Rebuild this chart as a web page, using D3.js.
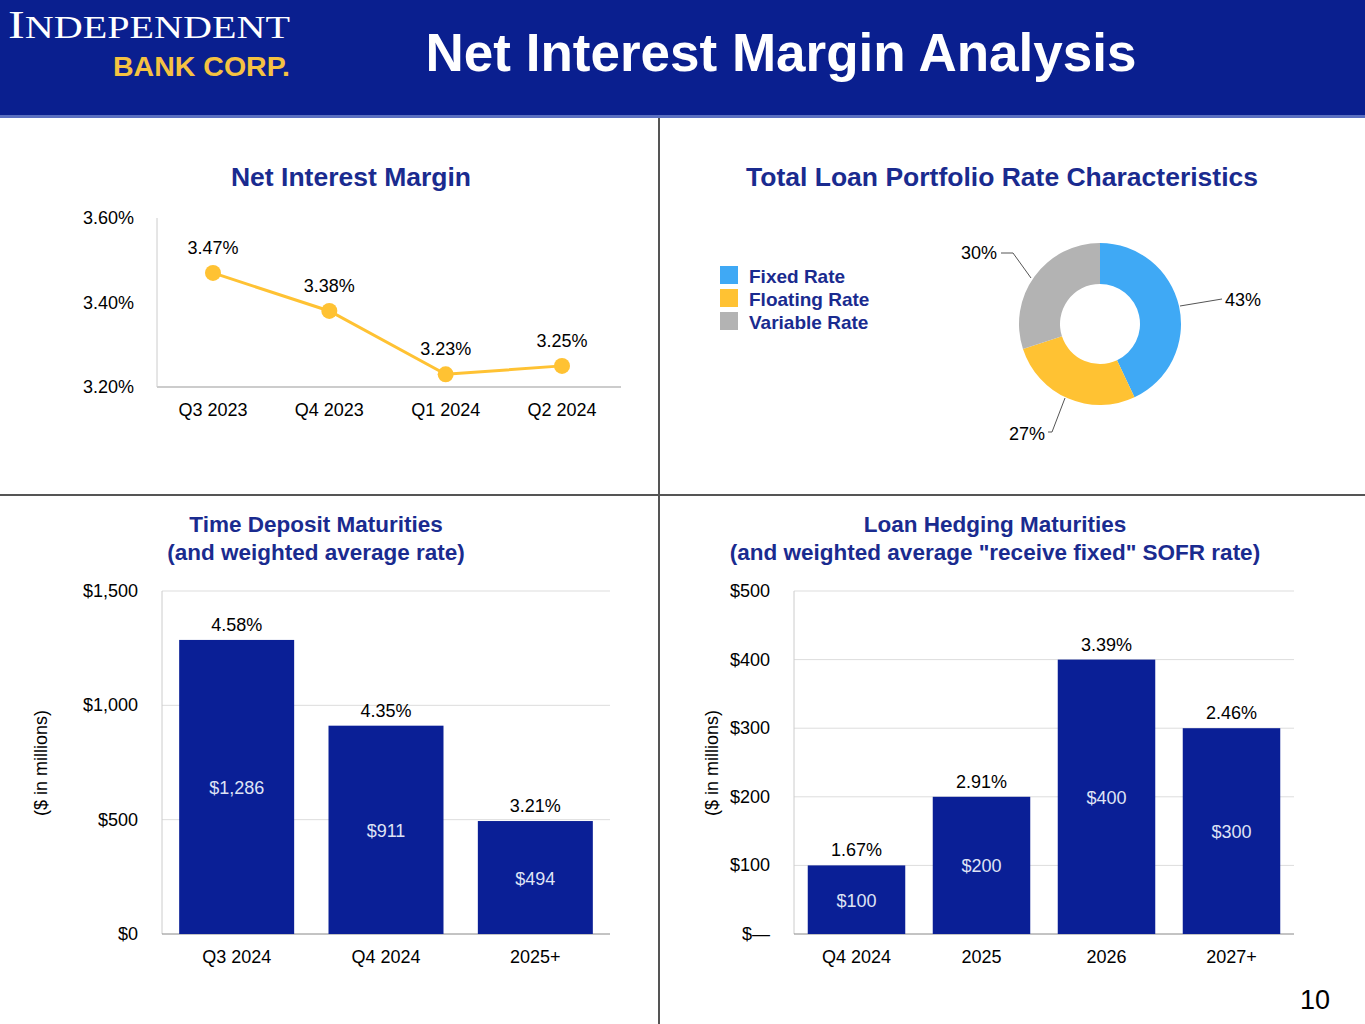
<!DOCTYPE html>
<html><head><meta charset="utf-8">
<script src="https://cdn.jsdelivr.net/npm/d3@7"></script>
<style>body{margin:0;background:#fff}svg{display:block;font-family:Arial,"Liberation Sans",sans-serif}</style>
</head><body><svg id="c" width="1365" height="1024"></svg>
<script>
const nimQuarters = ['Q3 2023','Q4 2023','Q1 2024','Q2 2024'];
const nimValues = [3.47, 3.38, 3.23, 3.25];
const nimTicks = [3.2, 3.4, 3.6];

const loanTypes = ['Fixed Rate','Floating Rate','Variable Rate'];
const loanShares = [43, 27, 30];
const loanColors = ['#3fa9f5','#ffc233','#b3b3b3'];

const tdBuckets = ['Q3 2024','Q4 2024','2025+'];
const tdAmounts = [1286, 911, 494];
const tdRates = ['4.58%','4.35%','3.21%'];
const tdTicks = [0, 500, 1000, 1500];

const hedgeBuckets = ['Q4 2024','2025','2026','2027+'];
const hedgeAmounts = [100, 200, 400, 300];
const hedgeRates = ['1.67%','2.91%','3.39%','2.46%'];
const hedgeTicks = [0, 100, 200, 300, 400, 500];

const navy = '#0a1f96', title = '#1a2b8f';
const FS = 18;
const svg = d3.select('#c');

// header
svg.append('rect').attr('width',1365).attr('height',115).attr('fill','#0a1f8f');
svg.append('rect').attr('y',115).attr('width',1365).attr('height',3).attr('fill','#5a6fc0');
const logo = svg.append('text').attr('x',8).attr('y',38).attr('fill','#fff').attr('font-family','Liberation Serif,serif')
  .attr('textLength',282).attr('lengthAdjust','spacingAndGlyphs');
logo.append('tspan').attr('font-size',40).text('I');
logo.append('tspan').attr('font-size',32).text('NDEPENDENT');
svg.append('text').attr('x',113).attr('y',76).attr('fill','#f5c242').attr('font-size',27).attr('font-weight','bold')
  .attr('textLength',177).attr('lengthAdjust','spacingAndGlyphs').text('BANK CORP.');
svg.append('text').attr('x',781).attr('y',71).attr('text-anchor','middle').attr('fill','#fff')
  .attr('font-size',53).attr('font-weight','bold').text('Net Interest Margin Analysis');

// dividers
svg.append('line').attr('x1',659).attr('x2',659).attr('y1',118).attr('y2',1024).attr('stroke','#555').attr('stroke-width',2);
svg.append('line').attr('x1',0).attr('x2',1365).attr('y1',495).attr('y2',495).attr('stroke','#555').attr('stroke-width',2);
svg.append('text').attr('x',1330).attr('y',1009).attr('text-anchor','end').attr('font-size',27).text('10');

function heading(x, lines, y0, size){
  lines.forEach((t,i)=>svg.append('text').attr('x',x).attr('y',y0+i*28).attr('text-anchor','middle')
    .attr('fill',title).attr('font-size',size).attr('font-weight','bold').text(t));
}
heading(351,['Net Interest Margin'],186,26.5);
heading(1002,['Total Loan Portfolio Rate Characteristics'],186,26.5);
heading(316,['Time Deposit Maturities','(and weighted average rate)'],532,22.5);
heading(995,['Loan Hedging Maturities','(and weighted average "receive fixed" SOFR rate)'],532,22.5);

// NIM line chart
{
  const x = d3.scalePoint().domain(nimQuarters).range([213,562]);
  const y = d3.scaleLinear().domain([3.2,3.6]).range([387,218]);
  svg.append('line').attr('x1',157).attr('x2',621).attr('y1',387).attr('y2',387).attr('stroke','#999');
  svg.append('line').attr('x1',157).attr('x2',157).attr('y1',218).attr('y2',387).attr('stroke','#ccc');
  nimTicks.forEach(t=>svg.append('text').attr('x',134).attr('y',y(t)+6).attr('text-anchor','end').attr('font-size',FS).text(t.toFixed(2)+'%'));
  nimQuarters.forEach(q=>svg.append('text').attr('x',x(q)).attr('y',416).attr('text-anchor','middle').attr('font-size',FS).text(q));
  svg.append('path').attr('d',d3.line().x((d,i)=>x(nimQuarters[i])).y(d=>y(d))(nimValues))
    .attr('fill','none').attr('stroke','#ffc233').attr('stroke-width',3);
  nimValues.forEach((v,i)=>{
    svg.append('circle').attr('cx',x(nimQuarters[i])).attr('cy',y(v)).attr('r',8).attr('fill','#ffc233');
    svg.append('text').attr('x',x(nimQuarters[i])).attr('y',y(v)-19).attr('text-anchor','middle').attr('font-size',FS).text(v.toFixed(2)+'%');
  });
}

// Donut
{
  const cx=1100, cy=324;
  const g = svg.append('g').attr('transform',`translate(${cx},${cy})`);
  const pie = d3.pie().sort(null)(loanShares);
  const arc = d3.arc().innerRadius(40).outerRadius(81);
  g.selectAll('path').data(pie).join('path').attr('d',arc).attr('fill',(d,i)=>loanColors[i]);
  const leaders = [
    {pts:[[1180,306],[1222,299]], tx:1225, ty:306, anchor:'start'},
    {pts:[[1065,398],[1052,432],[1048,432]], tx:1045, ty:440, anchor:'end'},
    {pts:[[1031,278],[1013,253],[1001,253]], tx:997, ty:259, anchor:'end'}
  ];
  leaders.forEach((l,i)=>{
    svg.append('polyline').attr('points',l.pts.map(p=>p.join(',')).join(' ')).attr('fill','none').attr('stroke','#555');
    svg.append('text').attr('x',l.tx).attr('y',l.ty).attr('text-anchor',l.anchor).attr('font-size',FS).text(loanShares[i]+'%');
  });
  loanTypes.forEach((t,i)=>{
    svg.append('rect').attr('x',720).attr('y',266+i*23).attr('width',18).attr('height',18).attr('fill',loanColors[i]);
    svg.append('text').attr('x',749).attr('y',283+i*23).attr('fill',title).attr('font-size',19).attr('font-weight','bold').text(t);
  });
}

function barChart(o){
  const x = d3.scaleBand().domain(o.cats).range([o.x0,o.x1]).paddingInner(o.pad).paddingOuter(o.pad/2);
  const y = d3.scaleLinear().domain([0,o.max]).range([934,591]);
  o.ticks.forEach(t=>{
    if(t>0) svg.append('line').attr('x1',o.axisX).attr('x2',o.x1).attr('y1',y(t)).attr('y2',y(t)).attr('stroke','#ddd');
    svg.append('text').attr('x',o.axisX-24).attr('y',y(t)+6).attr('text-anchor','end').attr('font-size',FS).text(o.fmt(t));
  });
  svg.append('line').attr('x1',o.axisX).attr('x2',o.axisX).attr('y1',591).attr('y2',934).attr('stroke','#ccc');
  svg.append('line').attr('x1',o.axisX).attr('x2',o.x1).attr('y1',934).attr('y2',934).attr('stroke','#888');
  o.cats.forEach((c,i)=>{
    const v=o.vals[i], bx=x(c), bw=x.bandwidth();
    svg.append('rect').attr('x',bx).attr('y',y(v)).attr('width',bw).attr('height',934-y(v)).attr('fill',navy);
    svg.append('text').attr('x',bx+bw/2).attr('y',y(v)-9).attr('text-anchor','middle').attr('font-size',FS).text(o.rates[i]);
    svg.append('text').attr('x',bx+bw/2).attr('y',(y(v)+934)/2+7).attr('text-anchor','middle').attr('font-size',FS).attr('fill','#dfe3f5').text('$'+d3.format(',')(v));
    svg.append('text').attr('x',bx+bw/2).attr('y',963).attr('text-anchor','middle').attr('font-size',FS).text(c);
  });
  svg.append('text').attr('transform',`translate(${o.titleX},763) rotate(-90)`).attr('text-anchor','middle').attr('font-size',FS).text('($ in millions)');
}
barChart({cats:tdBuckets, vals:tdAmounts, rates:tdRates, ticks:tdTicks, max:1500, axisX:162, x0:162, x1:610, pad:0.23,
  fmt:t=>'$'+d3.format(',')(t), titleX:47});
barChart({cats:hedgeBuckets, vals:hedgeAmounts, rates:hedgeRates, ticks:hedgeTicks, max:500, axisX:794, x0:794, x1:1294, pad:0.22,
  fmt:t=>t===0?'$—':'$'+t, titleX:718});
</script></body></html>
